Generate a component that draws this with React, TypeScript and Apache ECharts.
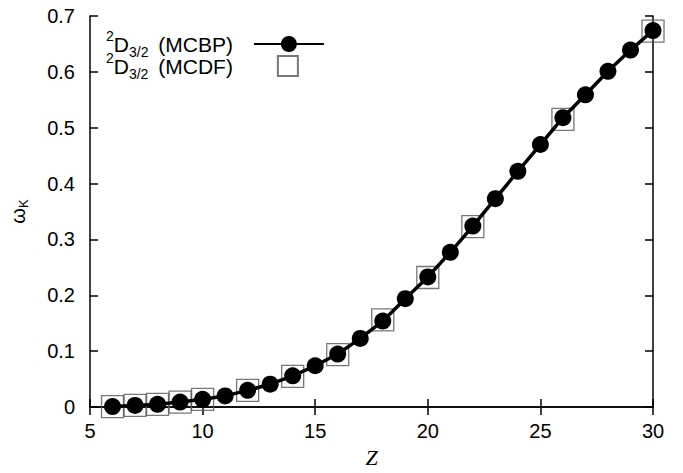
import React, { useEffect, useRef } from "react";
import * as echarts from "echarts";

const zMCBP = [6, 7, 8, 9, 10, 11, 12, 13, 14, 15, 16, 17, 18, 19, 20, 21, 22, 23, 24, 25, 26, 27, 28, 29, 30];
const omegaMCBP = [0.001, 0.003, 0.005, 0.009, 0.014, 0.02, 0.03, 0.041, 0.056, 0.074, 0.095, 0.123, 0.154, 0.194, 0.233, 0.277, 0.324, 0.373, 0.422, 0.47, 0.518, 0.559, 0.601, 0.639, 0.674];
const zMCDF = [6, 7, 8, 9, 10, 12, 14, 16, 18, 20, 22, 26, 30];
const omegaMCDF = [0.001, 0.003, 0.005, 0.009, 0.014, 0.03, 0.055, 0.094, 0.156, 0.232, 0.323, 0.515, 0.673];
const seriesNames = ["MCBP", "MCDF"];

const SANS = "'Liberation Sans', Arial, Helvetica, sans-serif";
const SERIF = "'Liberation Serif', 'Times New Roman', serif";

function legendRich(endPad: number) {
  return {
    sup: { fontSize: 14, lineHeight: 14, verticalAlign: "top", fontFamily: SANS, color: "#000" },
    m: { fontSize: 21, lineHeight: 30, fontFamily: SANS, color: "#000" },
    sub: { fontSize: 14, lineHeight: 14, verticalAlign: "bottom", fontFamily: SANS, color: "#000", padding: [0, 4, 0, 0] },
    end: { fontSize: 21, lineHeight: 30, fontFamily: SANS, color: "#000", padding: [0, endPad, 0, 0] },
  };
}

const legendFormatter = (name: string) => `{sup|2}{m|D}{sub|3/2}{end| (${name})}`;

export default function App() {
  const ref = useRef<HTMLDivElement>(null);
  useEffect(() => {
    if (!ref.current) return;
    const chart = echarts.init(ref.current, undefined, { renderer: "svg" });
    const axisLine = { show: true, lineStyle: { color: "#000", width: 1.5 } };
    const axisTick = { show: true, inside: true, length: 8, lineStyle: { color: "#000", width: 1.5 } };
    const labelStyle = { color: "#000", fontSize: 20, fontFamily: SANS };
    chart.setOption({
      animation: false,
      backgroundColor: "#fff",
      grid: { left: 90, right: 30, top: 16, bottom: 58 },
      legend: [
        {
          data: [seriesNames[0]],
          orient: "vertical",
          align: "right",
          left: 106,
          top: 29,
          padding: 0,
          itemWidth: 70,
          itemHeight: 20,
          selectedMode: false,
          formatter: legendFormatter,
          textStyle: { color: "#000", fontFamily: SANS, rich: legendRich(16) },
        },
        {
          data: [seriesNames[1]],
          orient: "vertical",
          align: "right",
          left: 106,
          top: 51,
          padding: 0,
          itemWidth: 20,
          itemHeight: 20,
          selectedMode: false,
          formatter: legendFormatter,
          textStyle: { color: "#000", fontFamily: SANS, rich: legendRich(40) },
        },
      ],
      xAxis: [
        {
          type: "value",
          min: 5,
          max: 30,
          interval: 5,
          position: "bottom",
          axisLine,
          axisTick,
          axisLabel: { ...labelStyle, margin: 14 },
          splitLine: { show: false },
          name: "Z",
          nameLocation: "middle",
          nameGap: 32,
          nameTextStyle: { fontFamily: SERIF, fontStyle: "italic", fontSize: 22, color: "#000" },
        },
        {
          type: "value",
          min: 5,
          max: 30,
          interval: 5,
          position: "top",
          axisLine,
          axisTick,
          axisLabel: { show: false },
          splitLine: { show: false },
        },
      ],
      yAxis: [
        {
          type: "value",
          min: 0,
          max: 0.7,
          interval: 0.1,
          position: "left",
          axisLine,
          axisTick,
          axisLabel: { ...labelStyle, margin: 15 },
          splitLine: { show: false },
          name: "{w|ω}{k|K}",
          nameLocation: "middle",
          nameRotate: 90,
          nameGap: 60,
          nameTextStyle: {
            rich: {
              w: { fontSize: 20, fontFamily: SANS, color: "#000", lineHeight: 24 },
              k: { fontSize: 13, fontFamily: SANS, color: "#000", verticalAlign: "bottom", lineHeight: 14 },
            },
          },
        },
        {
          type: "value",
          min: 0,
          max: 0.7,
          interval: 0.1,
          position: "right",
          axisLine,
          axisTick,
          axisLabel: { show: false },
          splitLine: { show: false },
        },
      ],
      series: [
        {
          name: "MCDF",
          type: "scatter",
          xAxisIndex: 0,
          yAxisIndex: 0,
          symbol: "rect",
          symbolSize: 22,
          z: 2,
          itemStyle: { color: "rgba(255,255,255,0)", borderColor: "#555", borderWidth: 1.3 },
          data: zMCDF.map((z, i) => [z, omegaMCDF[i]]),
        },
        {
          name: "MCBP",
          type: "line",
          xAxisIndex: 0,
          yAxisIndex: 0,
          symbol: "circle",
          symbolSize: 17,
          showAllSymbol: true,
          z: 3,
          itemStyle: { color: "#000" },
          lineStyle: { color: "#000", width: 3.5 },
          data: zMCBP.map((z, i) => [z, omegaMCBP[i]]),
        },
      ],
    });
    return () => chart.dispose();
  }, []);
  return (
    <div
      ref={ref}
      style={{ position: "fixed", left: 0, top: 0, width: 683, height: 473, background: "#fff" }}
    />
  );
}
